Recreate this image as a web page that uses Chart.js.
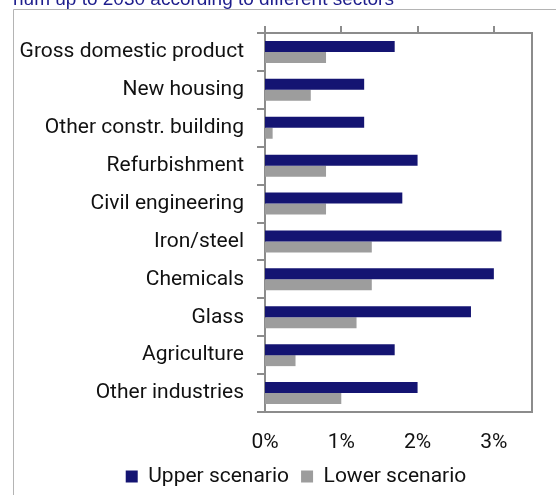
<!DOCTYPE html>
<html lang="en">
<head>
    <meta charset="UTF-8">
    <title>Growth up to 2030 by sector</title>
    <script src="https://cdn.jsdelivr.net/npm/chart.js"></script>
    <style>
        body { margin: 0; background: #ffffff; }
        #wrap { width: 556px; height: 495px; }
    </style>
</head>
<body>
    <div id="wrap"><canvas id="sectorChart"></canvas></div>

    <script>
        const titleLine = "num up to 2030 according to different sectors";
        const sectors = [
            "Gross domestic product", "New housing", "Other constr. building", "Refurbishment",
            "Civil engineering", "Iron/steel", "Chemicals", "Glass", "Agriculture", "Other industries"
        ];
        const upperScenario = [1.7, 1.3, 1.3, 2.0, 1.8, 3.1, 3.0, 2.7, 1.7, 2.0];
        const lowerScenario = [0.8, 0.6, 0.1, 0.8, 0.8, 1.4, 1.4, 1.2, 0.4, 1.0];
        const seriesNames = ["Upper scenario", "Lower scenario"];

        const axisGrey = '#8c8c8c';
        const labelFont = { family: 'Roboto', size: 21 };

        // outer frame + cut-off title, right edge of the plot box,
        // and nudge the legend to where it sits in the original
        const framePlugin = {
            id: 'frame',
            afterLayout(chart) {
                const lg = chart.legend;
                lg.left += 30; lg.right += 30;
                lg.top += 2; lg.bottom += 2;
            },
            beforeDraw(chart) {
                const c = chart.ctx;
                c.save();
                c.strokeStyle = '#b4b4b4';
                c.lineWidth = 1;
                c.beginPath();
                c.moveTo(13.5, 495);
                c.lineTo(13.5, 9.5);
                c.lineTo(556, 9.5);
                c.stroke();
                c.fillStyle = '#1c1c8c';
                c.font = '19px "Liberation Sans"';
                c.textBaseline = 'alphabetic';
                c.fillText(titleLine, 13, 5);
                c.restore();
            },
            afterDraw(chart) {
                const a = chart.chartArea;
                const c = chart.ctx;
                c.save();
                c.strokeStyle = axisGrey;
                c.lineWidth = 2;
                c.beginPath();
                c.moveTo(a.right, a.top);
                c.lineTo(a.right, a.bottom);
                c.stroke();
                c.restore();
            }
        };

        const ctx = document.getElementById('sectorChart').getContext('2d');
        new Chart(ctx, {
            type: 'bar',
            data: {
                labels: sectors,
                datasets: [
                    {
                        label: seriesNames[0],
                        data: upperScenario,
                        backgroundColor: '#141472',
                        barPercentage: 1,
                        categoryPercentage: 0.58
                    },
                    {
                        label: seriesNames[1],
                        data: lowerScenario,
                        backgroundColor: '#9d9d9d',
                        barPercentage: 1,
                        categoryPercentage: 0.58
                    }
                ]
            },
            options: {
                indexAxis: 'y',
                responsive: true,
                maintainAspectRatio: false,
                animation: false,
                layout: { padding: { left: 0, right: 24, top: 26, bottom: 0 } },
                scales: {
                    x: {
                        position: 'bottom',
                        min: 0,
                        max: 3.5,
                        grid: { display: false, drawTicks: false },
                        border: { display: true, color: axisGrey, width: 2 },
                        ticks: {
                            stepSize: 1,
                            includeBounds: false,
                            padding: 18,
                            color: '#111111',
                            font: labelFont,
                            callback: v => v + '%'
                        },
                        afterFit: s => { s.height = 40; }
                    },
                    x2: {
                        position: 'top',
                        axis: 'x',
                        min: 0,
                        max: 3.5,
                        grid: { display: true, drawOnChartArea: false, drawTicks: true, tickLength: 7, color: axisGrey, lineWidth: 2 },
                        border: { display: true, color: axisGrey, width: 2 },
                        ticks: { stepSize: 1, includeBounds: false, display: false },
                        afterFit: s => { s.height = 7; }
                    },
                    y: {
                        grid: { display: true, drawOnChartArea: false, drawTicks: true, tickLength: 8, color: axisGrey, lineWidth: 2 },
                        border: { display: true, color: axisGrey, width: 2 },
                        ticks: { padding: 13, color: '#111111', font: labelFont },
                        afterFit: s => { s.width = 265; }
                    }
                },
                plugins: {
                    legend: {
                        display: true,
                        position: 'bottom',
                        labels: {
                            boxWidth: 12,
                            boxHeight: 12,
                            padding: 12,
                            color: '#111111',
                            font: labelFont
                        }
                    },
                    tooltip: { enabled: false }
                }
            },
            plugins: [framePlugin]
        });
    </script>
</body>
</html>
